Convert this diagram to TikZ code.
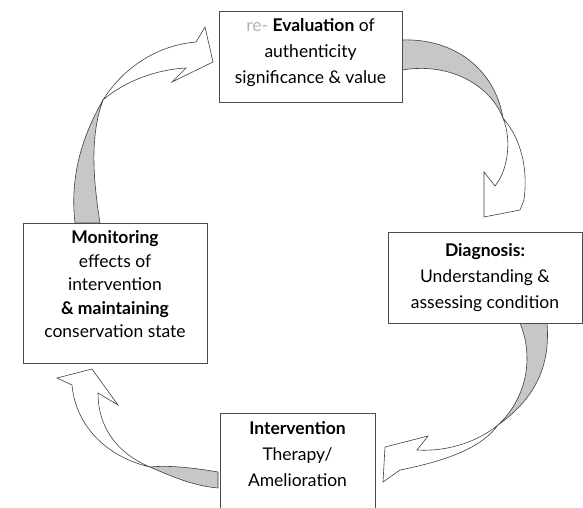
\documentclass[tikz,border=0pt]{standalone}
\usepackage{fontspec}
\setmainfont{Lato}
\tikzstyle{stage}=[draw=black!70,fill=white,line width=0.8pt,align=center,inner sep=0pt,font=\fontsize{17.5}{26}\selectfont]
\tikzstyle{back}=[fill=black!22,draw=black!75,line width=0.6pt]
\tikzstyle{front}=[fill=white,draw=black!75,line width=0.6pt]

\begin{document}
\begin{tikzpicture}[x=1pt,y=-1pt]
          \useasboundingbox (0,0) rectangle (583,507);
          % evaluation -> diagnosis
          \path[back] (402,40) .. controls (455,38) and (495,70) .. (503,118)
            .. controls (490,85) and (450,62) .. (402,70) -- cycle;
          \path[front] (503,118) .. controls (512,140) and (508,170) .. (495,186)
            -- (484,172) -- (484,217) -- (520,210) -- (524,200)
            .. controls (528,170) and (522,140) .. (503,118) -- cycle;
          % diagnosis -> intervention
          \path[back] (520,323) .. controls (535,360) and (525,400) .. (498,425)
            .. controls (540,395) and (550,360) .. (547,323) -- cycle;
          \path[front] (498,425) .. controls (480,440) and (450,452) .. (417,450)
            -- (428,436) -- (385,447) -- (383,482) -- (400,470)
            .. controls (440,462) and (480,450) .. (498,425) -- cycle;
          % intervention -> monitoring
          \path[back] (218,472) .. controls (195,468) and (170,465) .. (150,467)
            .. controls (175,478) and (195,486) .. (218,488) -- cycle;
          \path[front] (150,467) .. controls (110,450) and (98,420) .. (98,393)
            -- (118,405) -- (92,369) -- (57,378) -- (72,385)
            .. controls (75,420) and (100,455) .. (150,467) -- cycle;
          % monitoring -> evaluation
          \path[back] (75,223) .. controls (70,180) and (80,140) .. (103,100)
            .. controls (88,140) and (95,190) .. (100,223) -- cycle;
          \path[front] (103,100) .. controls (125,65) and (160,45) .. (196,42)
            -- (205,27) -- (213,62) -- (172,82) -- (186,68)
            .. controls (150,70) and (120,85) .. (103,100) -- cycle;
          % stages
          \node[stage,minimum width=183pt,minimum height=91pt,text depth=12pt] (eval) at (310.5,56.5)
            {\textcolor{black!30}{re-} \textbf{Evaluation} of\\ authenticity\\ significance \& value};
          \node[stage,minimum width=194pt,minimum height=91pt] (diag) at (485,277.5)
            {\textbf{Diagnosis:}\\ Understanding \&\\ assessing condition};
          \node[stage,minimum width=184pt,minimum height=140pt,text depth=17pt,font=\fontsize{17.5}{23.5}\selectfont] (mon) at (115,293)
            {\textbf{Monitoring}\\ effects of\\ intervention\\ \textbf{\& maintaining}\\ conservation state};
          \node[stage,minimum width=155pt,minimum height=110pt,text depth=29pt] (interv) at (297.5,468)
            {\textbf{Intervention}\\ Therapy/\\ Amelioration};
        \end{tikzpicture}
\end{document}
